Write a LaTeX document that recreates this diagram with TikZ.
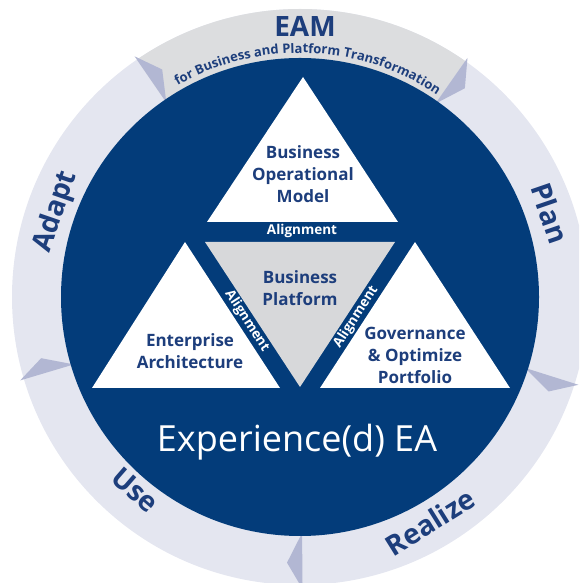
\documentclass[tikz,border=0pt]{standalone}
\usepackage{fontspec}
\setmainfont{Open Sans}
\usetikzlibrary{decorations.text}
\definecolor{ringc}{HTML}{E4E6F0}
\definecolor{bandc}{HTML}{DCDDDF}
\definecolor{markc}{HTML}{B2B7D3}
\definecolor{navy}{HTML}{033C7A}
\definecolor{tblue}{HTML}{1D3E7C}
\definecolor{greyc}{HTML}{D7D8DA}
\tikzset{
  tritext/.style={text=tblue, font=\fontsize{17}{22}\selectfont\bfseries, align=center, inner sep=0pt},
  aligntext/.style={text=white, font=\fontsize{13.5}{14}\selectfont\bfseries, inner sep=0pt},
  ringtext/.style={text=tblue, font=\fontsize{28}{28}\selectfont\bfseries, inner sep=0pt},
}
\begin{document}
\begin{tikzpicture}[x=1pt,y=1pt]
\useasboundingbox (0,0) rectangle (579,583);
\clip (0,0) rectangle (579,583);
\coordinate (C) at (300,286);
% outer ring
\fill[ringc] (C) circle[radius=288pt];
\begin{scope}[shift={(C)}]
  \fill[bandc] (0,0) -- (55:288) arc[start angle=55,end angle=124.5,radius=288pt] -- cycle;
  \foreach \a in {124.5,55,-17.5,-89.5,196.6}
    \fill[markc] (\a:236) -- (\a:292) -- ({\a-3.3}:266) -- cycle;
\end{scope}
% inner disc
\fill[navy] (C) circle[radius=239pt];
% triangles
\coordinate (t1) at (207,361); \coordinate (t2) at (398,361); \coordinate (t3) at (303,506);
\coordinate (g1) at (205,341); \coordinate (g2) at (395,341); \coordinate (g3) at (300,196);
\coordinate (l1) at (92,195);  \coordinate (l2) at (280,195); \coordinate (l3) at (185,341);
\coordinate (r1) at (320,195); \coordinate (r2) at (510,195); \coordinate (r3) at (415,341);
\fill[white] (t1) -- (t2) -- (t3) -- cycle;
\fill[greyc] (g1) -- (g2) -- (g3) -- cycle;
\fill[white] (l1) -- (l2) -- (l3) -- cycle;
\fill[white] (r1) -- (r2) -- (r3) -- cycle;
% texts
\node[tritext] (bom) at (303,409) {Business\\Operational\\Model};
\node[tritext] (bp) at (300,295) {Business\\Platform};
\node[tritext] (ea) at (190,232) {Enterprise\\Architecture};
\node[tritext] (gov) at (415,228) {Governance\\\& Optimize\\Portfolio};
\node[aligntext] (al1) at (302,352) {Alignment};
\node[aligntext, rotate=-57] (al2) at (247,262) {Alignment};
\node[aligntext, rotate=57] (al3) at (356,266) {Alignment};
\node[text=white, font=\fontsize{36}{36}\selectfont, inner sep=0pt, anchor=base] (exp) at (297,131) {Experience(d) EA};
\node[text=tblue, font=\fontsize{28}{28}\selectfont\bfseries, inner sep=0pt, anchor=base] (eam) at (305,546) {EAM};
\path[decorate, decoration={text along path, text align=center, text color=tblue,
   text={|\fontsize{13}{14}\selectfont\bfseries|for Business and Platform Transformation}}]
   (C) ++(130:244) arc[start angle=130, end angle=46, radius=244pt];
\node[ringtext, rotate=71] (adapt) at (56,371) {Adapt};
\node[ringtext, rotate=-71] (plan) at (550,370) {Plan};
\node[ringtext, rotate=-41] (use) at (135,93) {Use};
\node[ringtext, rotate=32] (realize) at (430,61) {Realize};
\end{tikzpicture}
\end{document}
